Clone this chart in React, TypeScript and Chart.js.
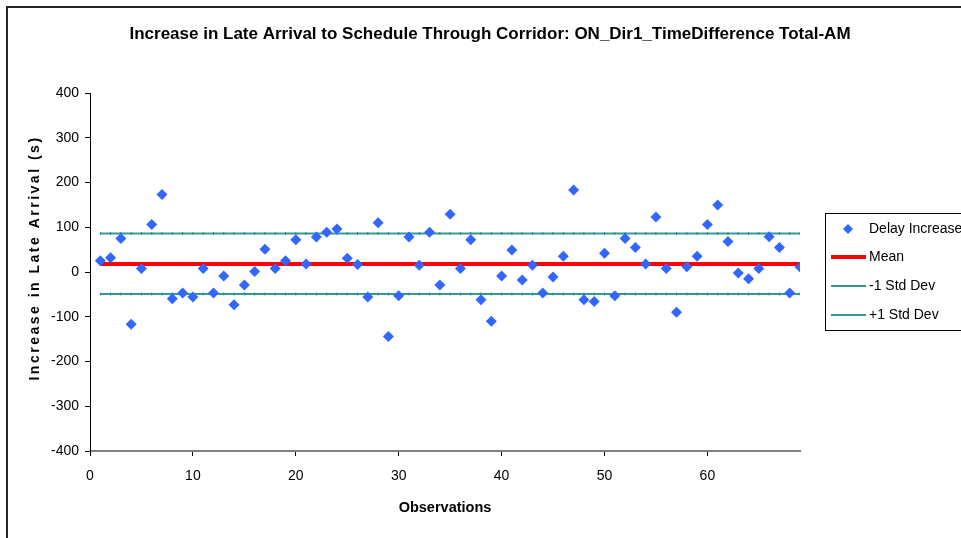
import React, { useEffect, useRef } from 'react';
import { Chart, registerables } from 'chart.js';

Chart.register(...registerables);

const chartTitle = 'Increase in Late Arrival to Schedule Through Corridor: ON_Dir1_TimeDifference Total-AM';
const xTitle = 'Observations';
const yTitle = 'Increase in Late Arrival (s)';

const observations = [
  1, 2, 3, 4, 5, 6, 7, 8, 9, 10, 11, 12, 13, 14, 15, 16, 17, 18, 19, 20, 21, 22, 23,
  24, 25, 26, 27, 28, 29, 30, 31, 32, 33, 34, 35, 36, 37, 38, 39, 40, 41, 42, 43, 44, 45,
  46, 47, 48, 49, 50, 51, 52, 53, 54, 55, 56, 57, 58, 59, 60, 61, 62, 63, 64, 65, 66, 67, 68, 69,
];

const delayIncrease = [
  25, 32, 75, -117, 8, 106, 173, -60, -47, -56,
  8, -47, -9, -73, -29, 1, 51, 8, 25, 72,
  18, 78, 89, 96, 31, 17, -56, 110, -144, -53,
  78, 15, 89, -29, 129, 8, 72, -62, -110, -9,
  49, -18, 15, -47, -11, 35, 183, -62, -66, 42,
  -53, 75, 55, 18, 123, 8, -90, 12, 35, 106,
  150, 68, -2, -15, 8, 79, 55, -47, 11,
];

const meanValue = 18;
const minusOneStdDev = -49;
const plusOneStdDev = 86;

const seriesLabels = ['Delay Increase', 'Mean', '-1 Std Dev', '+1 Std Dev'];

const xTickValues = [0, 10, 20, 30, 40, 50, 60];
const yTickValues = [-400, -300, -200, -100, 0, 100, 200, 300, 400];

const FONT = "'Liberation Sans', Arial, sans-serif";
const BLUE = '#3366FF';
const RED = '#FF0000';
const TEAL = '#339999';

const decorPlugin = {
  id: 'decor',
  beforeDraw(chart: any) {
    const ctx = chart.ctx;
    ctx.save();
    ctx.fillStyle = '#ffffff';
    ctx.fillRect(0, 0, chart.width, chart.height);
    ctx.strokeStyle = '#262626';
    ctx.lineWidth = 2;
    ctx.strokeRect(7, 7, chart.width + 20, chart.height + 20);
    ctx.restore();
  },
  afterDraw(chart: any) {
    const ctx = chart.ctx;
    ctx.save();
    // Title
    ctx.fillStyle = '#000';
    ctx.font = `bold 17px ${FONT}`;
    ctx.textAlign = 'center';
    ctx.textBaseline = 'middle';
    ctx.fillText(chartTitle, 490, 34);

    // Y axis title (spaced, rotated)
    ctx.save();
    ctx.translate(35, 258);
    ctx.rotate(-Math.PI / 2);
    ctx.font = `bold 14px ${FONT}`;
    (ctx as any).letterSpacing = '2.5px';
    ctx.textAlign = 'center';
    ctx.textBaseline = 'middle';
    ctx.fillText(yTitle, 0, 0);
    ctx.restore();

    // Legend
    const bx = 825, by = 213, bw = 140, bh = 117;
    ctx.fillStyle = '#fff';
    ctx.fillRect(bx, by, bw, bh);
    ctx.strokeStyle = '#000';
    ctx.lineWidth = 1;
    ctx.strokeRect(bx + 0.5, by + 0.5, bw, bh);
    const rows = [229, 257, 286, 315];
    chart.data.datasets.forEach((ds: any, i: number) => {
      const y = rows[i];
      if (i === 0) {
        ctx.fillStyle = ds.backgroundColor;
        ctx.beginPath();
        ctx.moveTo(848, y - 5);
        ctx.lineTo(853, y);
        ctx.lineTo(848, y + 5);
        ctx.lineTo(843, y);
        ctx.closePath();
        ctx.fill();
      } else {
        ctx.strokeStyle = ds.borderColor;
        ctx.lineWidth = ds.borderWidth;
        ctx.beginPath();
        ctx.moveTo(831, y);
        ctx.lineTo(866, y);
        ctx.stroke();
      }
      ctx.fillStyle = '#000';
      ctx.font = `14px ${FONT}`;
      ctx.textAlign = 'left';
      ctx.textBaseline = 'middle';
      ctx.fillText(ds.label, 869, y);
    });
    ctx.restore();
  },
};

export default function App() {
  const ref = useRef<HTMLCanvasElement | null>(null);

  useEffect(() => {
    if (!ref.current) return;
    const flat = (v: number) => observations.map((x) => ({ x, y: v }));
    const chart = new Chart(ref.current, {
      type: 'scatter',
      data: {
        datasets: [
          {
            label: seriesLabels[0],
            data: observations.map((x, i) => ({ x, y: delayIncrease[i] })),
            backgroundColor: BLUE,
            borderColor: BLUE,
            borderWidth: 0,
            pointStyle: 'rectRot',
            pointRadius: 5.5,
            order: 0,
          },
          {
            label: seriesLabels[1],
            type: 'line',
            data: flat(meanValue),
            borderColor: RED,
            backgroundColor: RED,
            borderWidth: 4,
            pointRadius: 0,
            order: 1,
          },
          {
            label: seriesLabels[2],
            type: 'line',
            data: flat(minusOneStdDev),
            borderColor: TEAL,
            backgroundColor: TEAL,
            borderWidth: 2,
            pointStyle: 'line',
            rotation: 90,
            pointRadius: 1.5,
            pointBorderWidth: 1,
            pointBorderColor: '#2a8a8a',
            order: 2,
          },
          {
            label: seriesLabels[3],
            type: 'line',
            data: flat(plusOneStdDev),
            borderColor: TEAL,
            backgroundColor: TEAL,
            borderWidth: 2,
            pointStyle: 'line',
            rotation: 90,
            pointRadius: 1.5,
            pointBorderWidth: 1,
            pointBorderColor: '#2a8a8a',
            order: 2,
          },
        ],
      },
      options: {
        responsive: false,
        animation: false,
        layout: { padding: { top: 93, right: 161, bottom: 0, left: 0 } },
        plugins: {
          legend: { display: false },
          title: { display: false },
          tooltip: { enabled: false },
        },
        scales: {
          x: {
            type: 'linear',
            min: 0,
            max: 69,
            afterFit: (s: any) => { s.height = 87; },
            afterBuildTicks: (s: any) => { s.ticks = xTickValues.map((v) => ({ value: v })); },
            ticks: { color: '#000', font: { family: FONT, size: 14 }, padding: 12, maxRotation: 0 },
            grid: { drawOnChartArea: false, drawTicks: true, tickLength: 5, color: '#000' },
            border: { display: true, color: '#808080', width: 2 },
            title: { display: true, text: xTitle, color: '#000', font: { family: FONT, size: 14.5, weight: 'bold' }, padding: { top: 0, bottom: 21 } },
          },
          y: {
            type: 'linear',
            min: -400,
            max: 400,
            afterFit: (s: any) => { s.width = 90; },
            afterBuildTicks: (s: any) => { s.ticks = yTickValues.map((v) => ({ value: v })); },
            ticks: { color: '#000', font: { family: FONT, size: 14 }, padding: 6 },
            grid: { drawOnChartArea: false, drawTicks: true, tickLength: 5, color: '#000' },
            border: { display: true, color: '#000', width: 1 },
            title: { display: false, text: yTitle },
          },
        },
      },
      plugins: [decorPlugin],
    } as any);
    return () => chart.destroy();
  }, []);

  return (
    <div style={{ position: 'absolute', left: 0, top: 0, width: 961, height: 538 }}>
      <canvas ref={ref} width={961} height={538} style={{ display: 'block' }} />
    </div>
  );
}
